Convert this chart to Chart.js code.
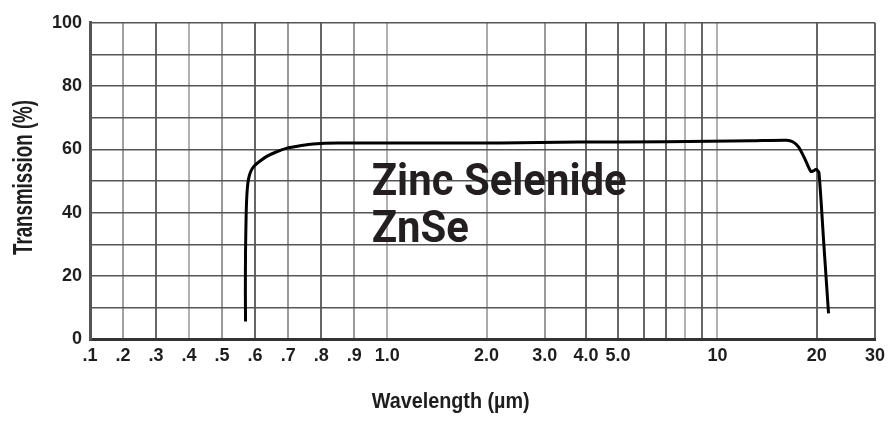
<!DOCTYPE html>
<html>
<head>
<meta charset="utf-8">
<script src="https://cdn.jsdelivr.net/npm/chart.js@4.4.1/dist/chart.umd.min.js"></script>
<style>
  html, body { margin: 0; padding: 0; background: #fff; }
  #wrap { width: 891px; height: 421px; }
</style>
</head>
<body>
<div id="wrap"><canvas id="chart" width="891" height="421"></canvas></div>
<script>
// transmission curve
const wavelength = [0.571, 0.5705, 0.571, 0.573, 0.575, 0.578, 0.582, 0.588, 0.598, 0.615, 0.634, 0.66, 0.694,
    0.74, 0.775, 0.85, 1.0, 1.5, 2.2, 3.8, 7.0, 12.7, 16.2, 16.9, 17.6, 18.3, 18.8, 19.2, 19.6, 19.95, 20.3, 21.0, 21.7];
const transmission = [5.6, 15, 28, 40, 45.5, 49.3, 51.5, 53.3, 54.8, 56.3, 57.7, 59.0, 60.3,
    61.2, 61.7, 62.0, 62.0, 62.0, 62.0, 62.3, 62.4, 62.7, 62.9, 62.4, 60.8, 57.5, 54.8, 53.0, 53.3, 53.7, 52.6, 30, 8.2];

const xTicks = [0.1, 0.2, 0.3, 0.4, 0.5, 0.6, 0.7, 0.8, 0.9, 1, 2, 3, 4, 5, 6, 7, 8, 9, 10, 20, 30];
const xTickLabels = ['.1', '.2', '.3', '.4', '.5', '.6', '.7', '.8', '.9', '1.0', '2.0', '3.0', '4.0', '5.0', '', '', '', '', '10', '20', '30'];
const yTicks = [0, 10, 20, 30, 40, 50, 60, 70, 80, 90, 100];
const yTickLabels = ['0', '', '20', '', '40', '', '60', '', '80', '', '100'];

// the printed chart is linear from .1 to 1.0 and logarithmic above that
class HybridScale extends Chart.LinearScale {
    toUnit(v) { return v <= 1 ? v - 0.1 : 0.9 + Math.log10(v); }
    fromUnit(u) { return u <= 0.9 ? u + 0.1 : Math.pow(10, u - 0.9); }
    getPixelForValue(value) {
        const a = this.toUnit(this.min), b = this.toUnit(this.max);
        return this.getPixelForDecimal((this.toUnit(value) - a) / (b - a));
    }
    getValueForPixel(pixel) {
        const a = this.toUnit(this.min), b = this.toUnit(this.max);
        return this.fromUnit(a + this.getDecimalForPixel(pixel) * (b - a));
    }
}
HybridScale.id = 'hybrid';
HybridScale.defaults = Chart.LinearScale.defaults;
Chart.register(HybridScale);

const lightLines = { 0.2: '#a0a0a0', 0.4: '#b0b0b0', 0.5: '#999', 0.7: '#999', 0.9: '#999',
    1: '#b0b0b0', 2: '#aaa', 3: '#999', 8: '#b0b0b0', 10: '#b0b0b0' };

function fitText(ctx, text, x, y, width, font, rot) {
    ctx.save();
    ctx.translate(x, y);
    ctx.rotate(rot);
    ctx.font = font;
    const w = ctx.measureText(text).width;
    ctx.scale(width / w, 1);
    ctx.textAlign = 'left';
    ctx.textBaseline = 'alphabetic';
    ctx.fillText(text, 0, 0);
    ctx.restore();
}

const labelsPlugin = {
    id: 'labels',
    afterDraw(chart) {
        const ctx = chart.ctx;
        ctx.save();
        ctx.fillStyle = '#231f20';
        // material name, both lines squeezed by the same factor
        ctx.font = 'bold 44px Roboto';
        const k = 255 / ctx.measureText('Zinc Selenide').width;
        ctx.translate(371.7, 0);
        ctx.scale(k, 1);
        ctx.fillText('Zinc Selenide', 0, 195);
        ctx.fillText('ZnSe', 0, 241.7);
        ctx.restore();

        ctx.fillStyle = '#1e1e1e';
        fitText(ctx, 'Wavelength (\u00b5m)', 371.7, 408.3, 158, 'bold 22px "Liberation Sans"', 0);
        fitText(ctx, 'Transmission (%)', 32, 255, 155, 'bold 27px "Liberation Sans"', -Math.PI / 2);
    }
};

const tickFont = { family: '"Liberation Sans"', size: 18, weight: 'bold' };

new Chart(document.getElementById('chart'), {
    type: 'line',
    data: {
        datasets: [{
            data: wavelength.map((w, i) => ({ x: w, y: transmission[i] })),
            borderColor: '#000',
            borderWidth: 3,
            pointRadius: 0,
            tension: 0.2,
            fill: false
        }]
    },
    options: {
        responsive: false,
        animation: false,
        layout: { padding: { top: 22.7, right: 14, left: 0, bottom: 0 } },
        plugins: { legend: { display: false }, tooltip: { enabled: false } },
        scales: {
            x: {
                type: 'hybrid',
                min: 0.1,
                max: 30,
                afterBuildTicks: s => { s.ticks = xTicks.map(v => ({ value: v })); },
                afterFit: s => { s.height = 81.7; },
                ticks: {
                    autoSkip: false,
                    maxRotation: 0,
                    padding: 6,
                    color: '#1e1e1e',
                    font: tickFont,
                    callback: (v, i) => xTickLabels[i]
                },
                grid: {
                    drawTicks: false,
                    lineWidth: 2,
                    color: c => (c.tick && lightLines[c.tick.value]) || '#666'
                },
                border: { color: '#333', width: 3 }
            },
            y: {
                min: 0,
                max: 100,
                afterBuildTicks: s => { s.ticks = yTicks.map(v => ({ value: v })); },
                afterFit: s => { s.width = 90; },
                ticks: {
                    autoSkip: false,
                    padding: 8,
                    color: '#1e1e1e',
                    font: tickFont,
                    callback: (v, i) => yTickLabels[i]
                },
                grid: { drawTicks: false, lineWidth: 1.5, color: '#555' },
                border: { color: '#555', width: 3 }
            }
        }
    },
    plugins: [labelsPlugin]
});
</script>
</body>
</html>
